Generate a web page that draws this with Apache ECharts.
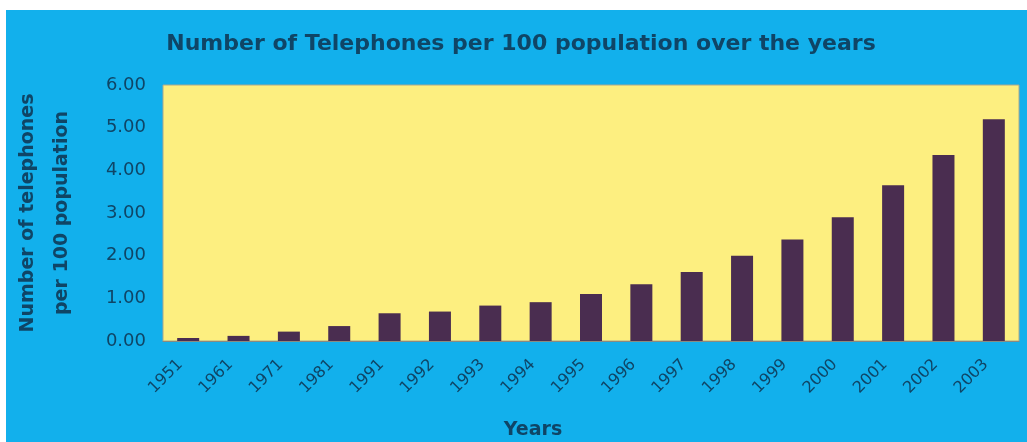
<!DOCTYPE html>
<html>
<head>
<meta charset="utf-8">
<script src="https://cdn.jsdelivr.net/npm/echarts@6/dist/echarts.min.js"></script>
<style>
html,body{margin:0;padding:0;background:#ffffff;}
#chart{width:1027px;height:442px;}
</style>
</head>
<body>
<div id="chart"></div>
<script>
const years = ['1951','1961','1971','1981','1991','1992','1993','1994','1995','1996','1997','1998','1999','2000','2001','2002','2003'];
const phonesPer100 = [0.07,0.12,0.22,0.35,0.65,0.69,0.83,0.91,1.10,1.33,1.62,2.00,2.38,2.90,3.65,4.36,5.20];
const yTicks = [0,1,2,3,4,5,6];

const textColor = '#0f4566';
const font = '"DejaVu Sans", Arial, sans-serif';
const chart = echarts.init(document.getElementById('chart'));
chart.setOption({
  backgroundColor: '#ffffff',
  animation: false,
  graphic: [{
    type: 'rect', left: 6, top: 10, z: -10,
    shape: {width: 1021, height: 432},
    style: {fill: '#12b0ec'}
  }],
  title: [{
    text: 'Number of Telephones per 100 population over the years',
    left: 516, top: 28, textAlign: 'center',
    textStyle: {fontFamily: font, fontSize: 22, fontWeight: 'bold', color: textColor}
  }, {
    text: 'Years',
    left: 528, top: 416, textAlign: 'center',
    textStyle: {fontFamily: font, fontSize: 19, fontWeight: 'bold', color: textColor}
  }],
  grid: [
    {left: 163, right: 8, top: 85, bottom: 101, show: true, backgroundColor: '#fdef80', borderColor: '#a8a890', borderWidth: 1},
    {left: 155, right: 16, top: 85, bottom: 101, show: false}
  ],
  xAxis: [{
    type: 'category', data: years, gridIndex: 0,
    axisLine: {show: true, lineStyle: {color: '#8a8a80'}},
    axisTick: {show: false},
    axisLabel: {show: false}
  }, {
    type: 'category', data: years, gridIndex: 1,
    axisLine: {show: false}, axisTick: {show: false},
    axisLabel: {rotate: 45, margin: 21, fontFamily: font, fontSize: 16, color: textColor, interval: 0}
  }],
  yAxis: [{
    type: 'value', gridIndex: 0, min: yTicks[0], max: yTicks[yTicks.length-1], interval: 1,
    name: 'Number of telephones\nper 100 population',
    nameLocation: 'middle', nameRotate: 90, nameGap: 84,
    nameTextStyle: {fontFamily: font, fontSize: 19, fontWeight: 'bold', color: textColor, lineHeight: 34, align: 'center'},
    axisLine: {show: false}, axisTick: {show: false}, splitLine: {show: false},
    axisLabel: {margin: 17, fontFamily: font, fontSize: 18, color: textColor, formatter: v => v.toFixed(2)}
  }, {
    type: 'value', gridIndex: 1, min: yTicks[0], max: yTicks[yTicks.length-1], show: false
  }],
  series: [{
    type: 'bar', data: phonesPer100, barWidth: 22, xAxisIndex: 0, yAxisIndex: 0,
    itemStyle: {color: '#4a2d50'}
  }]
});
</script>
</body>
</html>
